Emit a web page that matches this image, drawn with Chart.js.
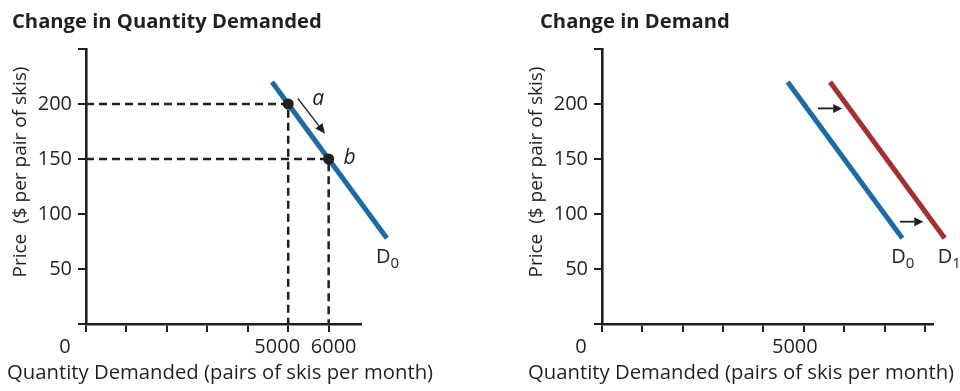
<!DOCTYPE html>
<html><head><meta charset="utf-8">
<script src="https://cdn.jsdelivr.net/npm/chart.js@4"></script>
<style>
html,body{margin:0;padding:0;background:#fff;}
body{width:960px;height:391px;position:relative;overflow:hidden;font-family:"Open Sans",sans-serif;color:#231f20;}
.cv{position:absolute;top:0;}
.t{position:absolute;white-space:pre;line-height:1;color:#231f20;}
.title{font-weight:bold;font-size:20.2px;top:10px;}
.xt{font-size:20.3px;top:361px;}
.yt{font-size:19px;line-height:20px;width:280px;height:20px;text-align:center;left:-121px;top:162px;transform:rotate(-90deg);transform-origin:center center;}
</style></head><body>
<div class="cv" style="left:0;"><canvas id="c1" width="480" height="391"></canvas></div>
<div class="cv" style="left:516px;"><canvas id="c2" width="444" height="391"></canvas></div>
<div class="t title" style="left:12px;">Change in Quantity Demanded</div>
<div class="t title" style="left:540px;">Change in Demand</div>
<div class="t xt" style="left:7px;">Quantity Demanded (pairs of skis per month)</div>
<div class="t xt" style="left:528px;">Quantity Demanded (pairs of skis per month)</div>
<div class="t yt">Price  ($ per pair of skis)</div>
<div class="t yt" style="left:395px;">Price  ($ per pair of skis)</div>
<script>
// ---- data ----
const priceTicks = [0, 50, 100, 150, 200, 250];
const priceTickLabels = [50, 100, 150, 200];
const qtyTicksLeft = [0, 1000, 2000, 3000, 4000, 5000, 6000];
const qtyTickLabelsLeft = [5000, 6000];
const qtyTicksRight = [0, 1000, 2000, 3000, 4000, 5000, 6000, 7000, 8000];
const qtyTickLabelsRight = [5000];
const qtyMaxLeft = 6800;
const qtyMaxRight = 8200;
const priceMax = 250;

const d0Qty = [4600, 7440];
const d0Price = [220, 78];
const d1Qty = [5650, 8490];
const d1Price = [220, 78];

const movePointQty = [5000, 6000];
const movePointPrice = [200, 150];
const movePointNames = ['a', 'b'];

const moveArrowQty = [5240, 5910];
const moveArrowPrice = [205, 173];

const shiftArrowStartQty = [5350, 7380];
const shiftArrowEndQty = [5950, 7960];
const shiftArrowPrice = [196, 93];

// ---- style ----
const INK = '#231f20';
const BLUE = '#1c6ca3';
const RED = '#a3302f';
const FONT = '"Open Sans", sans-serif';
const TICK_FONT = 20;
const xLabelShiftLeft = [-11, 5];   // px nudges of the 5000 / 6000 labels
const xLabelShiftRight = [-9];
Chart.defaults.font.family = FONT;
Chart.defaults.color = INK;

function pts(qs, ps) { return qs.map((q, i) => ({x: q, y: ps[i]})); }

function scales(xMax, xTicks) {
  return {
    x: {
      type: 'linear', min: 0, max: xMax,
      afterBuildTicks: s => { s.ticks = xTicks.map(v => ({value: v})); },
      afterFit: s => { s.height = 391 - 324; },
      grid: {display: true, drawOnChartArea: false, drawTicks: true, tickLength: 8, color: INK, lineWidth: 2},
      border: {display: true, color: INK, width: 2.6},
      ticks: {autoSkip: false, maxRotation: 0, padding: 3, color: INK, font: {size: TICK_FONT},
        callback: () => ''}
    },
    y: {
      type: 'linear', min: 0, max: priceMax,
      afterBuildTicks: s => { s.ticks = priceTicks.map(v => ({value: v})); },
      afterFit: s => { s.width = 86; },
      grid: {display: true, drawOnChartArea: false, drawTicks: true, tickLength: 8, color: INK, lineWidth: 2},
      border: {display: true, color: INK, width: 2.6},
      ticks: {autoSkip: false, padding: 6, color: INK, font: {size: TICK_FONT},
        callback: v => priceTickLabels.includes(v) ? String(v) : ''}
    }
  };
}

function arrow(ctx, x1, y1, x2, y2, lw, hl, hw) {
  const a = Math.atan2(y2 - y1, x2 - x1);
  const bx = x2 - hl * Math.cos(a), by = y2 - hl * Math.sin(a);
  ctx.save();
  ctx.strokeStyle = INK; ctx.fillStyle = INK; ctx.lineWidth = lw;
  ctx.beginPath(); ctx.moveTo(x1, y1); ctx.lineTo(bx, by); ctx.stroke();
  ctx.beginPath();
  ctx.moveTo(x2, y2);
  ctx.lineTo(bx + hw / 2 * Math.sin(a), by - hw / 2 * Math.cos(a));
  ctx.lineTo(bx - hw / 2 * Math.sin(a), by + hw / 2 * Math.cos(a));
  ctx.closePath(); ctx.fill();
  ctx.restore();
}

function dLabel(ctx, x, y, sub) {
  ctx.save();
  ctx.fillStyle = INK;
  ctx.textBaseline = 'alphabetic';
  ctx.textAlign = 'left';
  ctx.font = '20px ' + FONT;
  ctx.fillText('D', x, y);
  const w = ctx.measureText('D').width;
  ctx.font = '15px ' + FONT;
  ctx.fillText(sub, x + w, y + 5);
  ctx.restore();
}

function axisLabels(chart, labels, shifts) {
  const ctx = chart.ctx, xs = chart.scales.x, ys = chart.scales.y;
  const yLab = ys.getPixelForValue(0) + 23;
  ctx.save();
  ctx.fillStyle = INK; ctx.font = TICK_FONT + 'px ' + FONT;
  ctx.textAlign = 'center'; ctx.textBaseline = 'middle';
  ctx.fillText('0', xs.getPixelForValue(0) - 21, yLab);
  labels.forEach((v, i) => ctx.fillText(String(v), xs.getPixelForValue(v) + shifts[i], yLab));
  ctx.restore();
}

const leftNotes = {
  id: 'leftNotes',
  afterDatasetsDraw(chart) {
    const ctx = chart.ctx, xs = chart.scales.x, ys = chart.scales.y;
    axisLabels(chart, qtyTickLabelsLeft, xLabelShiftLeft);
    arrow(ctx, xs.getPixelForValue(moveArrowQty[0]), ys.getPixelForValue(moveArrowPrice[0]),
      xs.getPixelForValue(moveArrowQty[1]), ys.getPixelForValue(moveArrowPrice[1]), 1.3, 10, 9);
    ctx.save();
    ctx.fillStyle = INK; ctx.font = 'italic 21px ' + FONT;
    ctx.textAlign = 'center'; ctx.textBaseline = 'middle';
    ctx.fillText(movePointNames[0], xs.getPixelForValue(movePointQty[0]) + 30, ys.getPixelForValue(movePointPrice[0]) - 5);
    ctx.fillText(movePointNames[1], xs.getPixelForValue(movePointQty[1]) + 21, ys.getPixelForValue(movePointPrice[1]) - 1);
    ctx.restore();
    dLabel(ctx, xs.getPixelForValue(d0Qty[1]) - 11, ys.getPixelForValue(d0Price[1]) + 25, '0');
  }
};

const rightNotes = {
  id: 'rightNotes',
  afterDatasetsDraw(chart) {
    const ctx = chart.ctx, xs = chart.scales.x, ys = chart.scales.y;
    axisLabels(chart, qtyTickLabelsRight, xLabelShiftRight);
    for (let i = 0; i < shiftArrowPrice.length; i++) {
      arrow(ctx, xs.getPixelForValue(shiftArrowStartQty[i]), ys.getPixelForValue(shiftArrowPrice[i]),
        xs.getPixelForValue(shiftArrowEndQty[i]), ys.getPixelForValue(shiftArrowPrice[i]), 1.8, 9, 9);
    }
    dLabel(ctx, xs.getPixelForValue(d0Qty[1]) - 11, ys.getPixelForValue(d0Price[1]) + 25, '0');
    dLabel(ctx, xs.getPixelForValue(d1Qty[1]) - 7, ys.getPixelForValue(d1Price[1]) + 25, '1');
  }
};

const common = {
  responsive: false, devicePixelRatio: 1, animation: false,
  plugins: {legend: {display: false}, tooltip: {enabled: false}, title: {display: false}},
  elements: {line: {tension: 0}}
};

new Chart(document.getElementById('c1'), {
  type: 'scatter',
  data: {datasets: [
    {data: pts(movePointQty, movePointPrice), showLine: false, pointRadius: 5.5, pointBackgroundColor: INK, pointBorderWidth: 0, order: 0},
    {data: pts(d0Qty, d0Price), showLine: true, borderColor: BLUE, borderWidth: 5, pointRadius: 0, clip: false, order: 1},
    {data: [{x: 0, y: movePointPrice[0]}, {x: movePointQty[0], y: movePointPrice[0]}, {x: movePointQty[0], y: 0}],
      showLine: true, borderColor: INK, borderWidth: 2.5, borderDash: [8, 5], pointRadius: 0, order: 2},
    {data: [{x: 0, y: movePointPrice[1]}, {x: movePointQty[1], y: movePointPrice[1]}, {x: movePointQty[1], y: 0}],
      showLine: true, borderColor: INK, borderWidth: 2.5, borderDash: [8, 5], pointRadius: 0, order: 2}
  ]},
  options: Object.assign({}, common, {
    layout: {padding: {left: 0, top: 49, right: 480 - 361, bottom: 0}},
    scales: scales(qtyMaxLeft, qtyTicksLeft)
  }),
  plugins: [leftNotes]
});

new Chart(document.getElementById('c2'), {
  type: 'scatter',
  data: {datasets: [
    {data: pts(d0Qty, d0Price), showLine: true, borderColor: BLUE, borderWidth: 5, pointRadius: 0, clip: false},
    {data: pts(d1Qty, d1Price), showLine: true, borderColor: RED, borderWidth: 5, pointRadius: 0, clip: false}
  ]},
  options: Object.assign({}, common, {
    layout: {padding: {left: 0, top: 49, right: 444 - 417, bottom: 0}},
    scales: scales(qtyMaxRight, qtyTicksRight)
  }),
  plugins: [rightNotes]
});
</script>
</body></html>
